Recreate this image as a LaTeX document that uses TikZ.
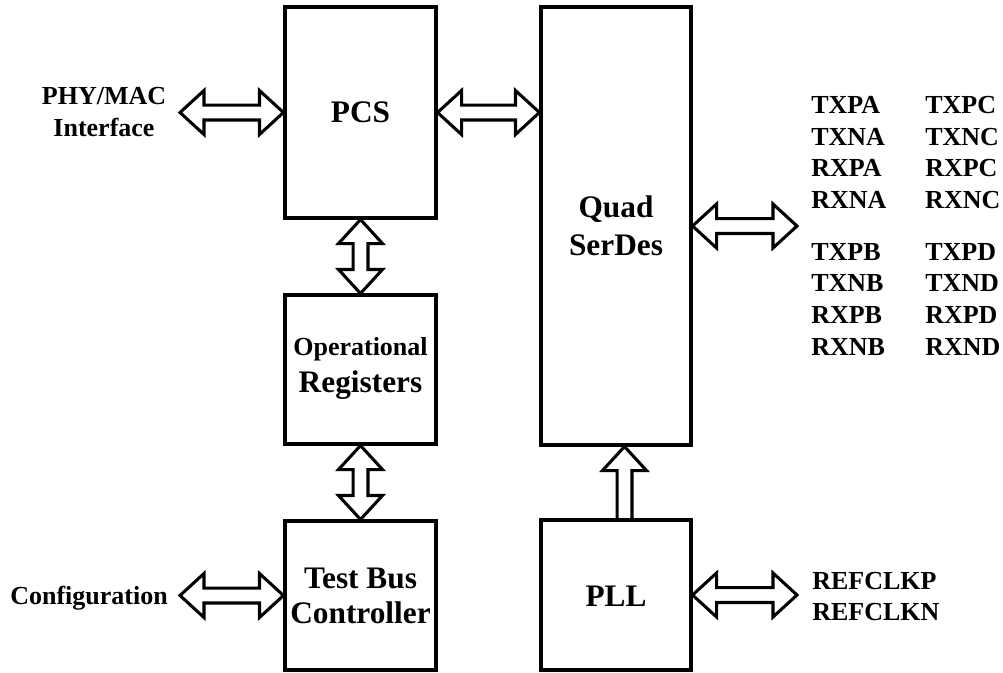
\documentclass[tikz,border=0pt]{standalone}
\usepackage{fontspec}
\setmainfont{Liberation Serif}
\usetikzlibrary{fit,calc}
\tikzset{
  box/.style={draw, line width=2.3pt, inner sep=0pt},
  blk/.style={draw, line width=2.3pt, line join=miter},
  lbl/.style={font=\fontsize{19.5}{23.5}\selectfont\bfseries, inner sep=0pt},
  big/.style={font=\fontsize{23.5}{26.25}\selectfont\bfseries, align=center, inner sep=0pt},
}
% horizontal double block arrow, #1 left end, #2 right end
\newcommand\dblh[2]{%
  \draw[blk] let \p1=(#1), \p2=(#2) in
    (\x1,\y1) -- (\x1+18pt,\y1+16.5pt) -- (\x1+18pt,\y1+5.6pt) -- (\x2-18pt,\y1+5.6pt)
    -- (\x2-18pt,\y1+16.5pt) -- (\x2,\y1) -- (\x2-18pt,\y1-16.5pt) -- (\x2-18pt,\y1-5.6pt)
    -- (\x1+18pt,\y1-5.6pt) -- (\x1+18pt,\y1-16.5pt) -- cycle;}
% vertical double block arrow, #1 top end, #2 bottom end
\newcommand\dblv[2]{%
  \draw[blk] let \p1=(#1), \p2=(#2) in
    (\x1,\y1) -- (\x1-16.5pt,\y1-18pt) -- (\x1-5.6pt,\y1-18pt) -- (\x1-5.6pt,\y2+18pt)
    -- (\x1-16.5pt,\y2+18pt) -- (\x1,\y2) -- (\x1+16.5pt,\y2+18pt) -- (\x1+5.6pt,\y2+18pt)
    -- (\x1+5.6pt,\y1-18pt) -- (\x1+16.5pt,\y1-18pt) -- cycle;}
% single upward block arrow, #1 bottom end, #2 top (tip)
\newcommand\blkup[2]{%
  \draw[blk] let \p1=(#1), \p2=(#2) in
    (\x1-5.6pt,\y1) -- (\x1-5.6pt,\y2-18pt) -- (\x1-16.5pt,\y2-18pt) -- (\x1,\y2)
    -- (\x1+16.5pt,\y2-18pt) -- (\x1+5.6pt,\y2-18pt) -- (\x1+5.6pt,\y1);}
\begin{document}
\begin{tikzpicture}[x=0.75pt,y=-0.75pt]
\useasboundingbox (0,0) rectangle (1003,672);
% blocks
\node[box, fit={(285,7) (436,218)}] (pcs) {};
\node[box, fit={(285,295) (436,444)}] (ops) {};
\node[box, fit={(285,521) (436,670)}] (tbc) {};
\node[box, fit={(541,7) (691,445)}] (serdes) {};
\node[box, fit={(541,520) (691,670)}] (pll) {};
% block texts
\node[big] (pcstxt) at (pcs.center) {PCS};
\node[big, font=\fontsize{23.5}{27.5}\selectfont\bfseries] (opstxt) at ($(ops.center)+(0,-1)$)
  {{\fontsize{19.5}{23.5}\selectfont Operational}\\Registers};
\node[big] (tbctxt) at (tbc.center) {Test Bus\\Controller};
\node[big, font=\fontsize{23.5}{28.7}\selectfont\bfseries] (serdestxt) at (serdes.center) {Quad\\SerDes};
\node[big] (plltxt) at ($(pll.center)+(0,1)$) {PLL};
% free ends
\coordinate (phy) at (180,112.5);
\coordinate (cfg) at (180,595.5);
\coordinate (sdr) at (797,226);
\coordinate (ref) at (797,595);
\coordinate (pa) at ($(pll.north)+(8.5,0)$);
\coordinate (pb) at (pa |- serdes.south);
% connectors
\dblh{phy}{pcs.west}
\dblh{pcs.east}{pcs.east -| serdes.west}
\dblh{serdes.east}{sdr}
\dblh{cfg}{tbc.west}
\dblh{pll.east}{ref}
\dblv{pcs.south}{ops.north}
\dblv{ops.south}{tbc.north}
\blkup{pa}{pb}
% labels
\node[lbl, align=center] (phylbl) at (104,112) {PHY/MAC\\Interface};
\node[lbl, anchor=base east] (cfglbl) at (168,604) {Configuration};
\node[lbl, anchor=base west] (refp) at (812,589.3) {REFCLKP};
\node[lbl, anchor=base west] (refn) at (812,620.7) {REFCLKN};
\foreach \a/\b/\yy [count=\i] in {TXPA/TXPC/113.3, TXNA/TXNC/145, RXPA/RXPC/176.7, RXNA/RXNC/208.3,
  TXPB/TXPD/260, TXNB/TXND/291.7, RXPB/RXPD/323.3, RXNB/RXND/355}
  \node[lbl, anchor=base west] (sig\i) at (811,\yy) {\makebox[85.5pt][l]{\a}\b};
\end{tikzpicture}
\end{document}
